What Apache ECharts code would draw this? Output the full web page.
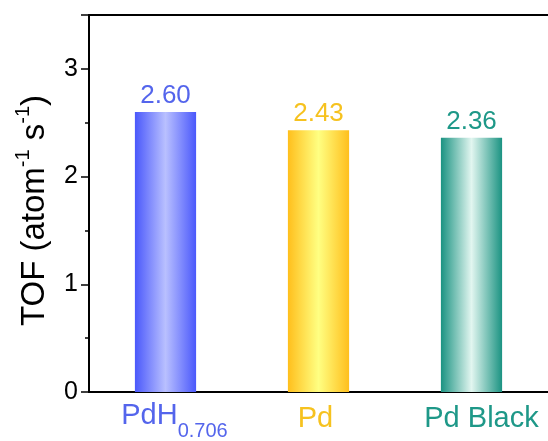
<!DOCTYPE html>
<html>
<head>
<meta charset="utf-8">
<script src="https://cdn.jsdelivr.net/npm/echarts@6/dist/echarts.min.js"></script>
<style>
  html, body { margin: 0; padding: 0; background: #fff; }
  #chart { width: 548px; height: 441px; }
</style>
</head>
<body>
<div id="chart"></div>
<script>
// Turnover frequency of the three Pd catalysts
const categories = ['PdH0.706', 'Pd', 'Pd Black'];
const tofValues = [2.60, 2.43, 2.36];
const yTicks = [0, 1, 2, 3];

// edge / centre colours of each bar's cylinder shading, and label colours
const edgeColors = ['#4a58fb', '#ffbf1c', '#1b9382'];
const midColors = ['#b9c0ff', '#ffff82', '#e2f6f0'];
const textColors = ['#5465ec', '#f6c21f', '#1e9888'];

const font = 'Arial, "Liberation Sans", Helvetica, sans-serif';

function cylinder(i) {
  return new echarts.graphic.LinearGradient(0, 0, 1, 0, [
    { offset: 0, color: edgeColors[i] },
    { offset: 0.5, color: midColors[i] },
    { offset: 1, color: edgeColors[i] }
  ]);
}

const chart = echarts.init(document.getElementById('chart'));

chart.setOption({
  animation: false,
  backgroundColor: '#fff',
  textStyle: { fontFamily: font },
  grid: { left: 89, top: 15, width: 462, height: 383, show: false },
  xAxis: [{
    type: 'category',
    data: categories,
    position: 'bottom',
    axisLine: { lineStyle: { color: '#000', width: 2 } },
    axisTick: { show: false },
    axisLabel: {
      margin: 9,
      formatter: function (v, idx) {
        if (v === 'PdH0.706') return '{m0|PdH}{s0|0.706}';
        return '{m' + idx + '|' + v + '}';
      },
      rich: {
        m0: { fontSize: 29, color: textColors[0], fontFamily: font, verticalAlign: 'top', lineHeight: 36, padding: [0, 0, 0, 18] },
        s0: { fontSize: 20, color: textColors[0], fontFamily: font, verticalAlign: 'bottom', lineHeight: 36, padding: [0, 0, -4, 0] },
        m1: { fontSize: 29, color: textColors[1], fontFamily: font, lineHeight: 36, padding: [0, 6, 0, 0] },
        m2: { fontSize: 29, color: textColors[2], fontFamily: font, lineHeight: 36, padding: [0, 0, 0, 20] }
      }
    }
  }, {
    // top frame line
    type: 'category',
    data: categories,
    position: 'top',
    axisLine: { lineStyle: { color: '#000', width: 2 } },
    axisTick: { show: false },
    axisLabel: { show: false }
  }],
  yAxis: {
    type: 'value',
    min: 0,
    max: 3.5,
    interval: 1,
    name: '{n|TOF (atom}{p|-1}{n| s}{p|-1}{n|)}',
    nameLocation: 'middle',
    nameRotate: 90,
    nameGap: 38,
    nameTextStyle: {
      padding: [0, 14, 0, 0],
      rich: {
        n: { fontSize: 33, color: '#000', fontFamily: font, lineHeight: 38, verticalAlign: 'bottom' },
        p: { fontSize: 20, color: '#000', fontFamily: font, lineHeight: 38, verticalAlign: 'top' }
      }
    },
    axisLine: { show: true, lineStyle: { color: '#000', width: 2 } },
    axisTick: { show: true, inside: false, length: 8, lineStyle: { color: '#000', width: 1.5 } },
    minorTick: { show: true, splitNumber: 2, length: 4, lineStyle: { color: '#000', width: 1.5 } },
    splitLine: { show: false },
    axisLabel: {
      margin: 11,
      fontSize: 25,
      color: '#000',
      fontFamily: font,
      showMaxLabel: false,
      formatter: function (v) { return yTicks.indexOf(v) >= 0 ? String(v) : ''; }
    }
  },
  series: [{
    type: 'bar',
    barWidth: '40%',
    data: tofValues.map(function (v, i) {
      return {
        value: v,
        itemStyle: { color: cylinder(i) },
        label: { color: textColors[i] }
      };
    }),
    label: {
      show: true,
      position: 'top',
      distance: 3,
      fontSize: 26,
      fontFamily: font,
      formatter: function (p) { return p.value.toFixed(2); }
    }
  }]
});
</script>
</body>
</html>
